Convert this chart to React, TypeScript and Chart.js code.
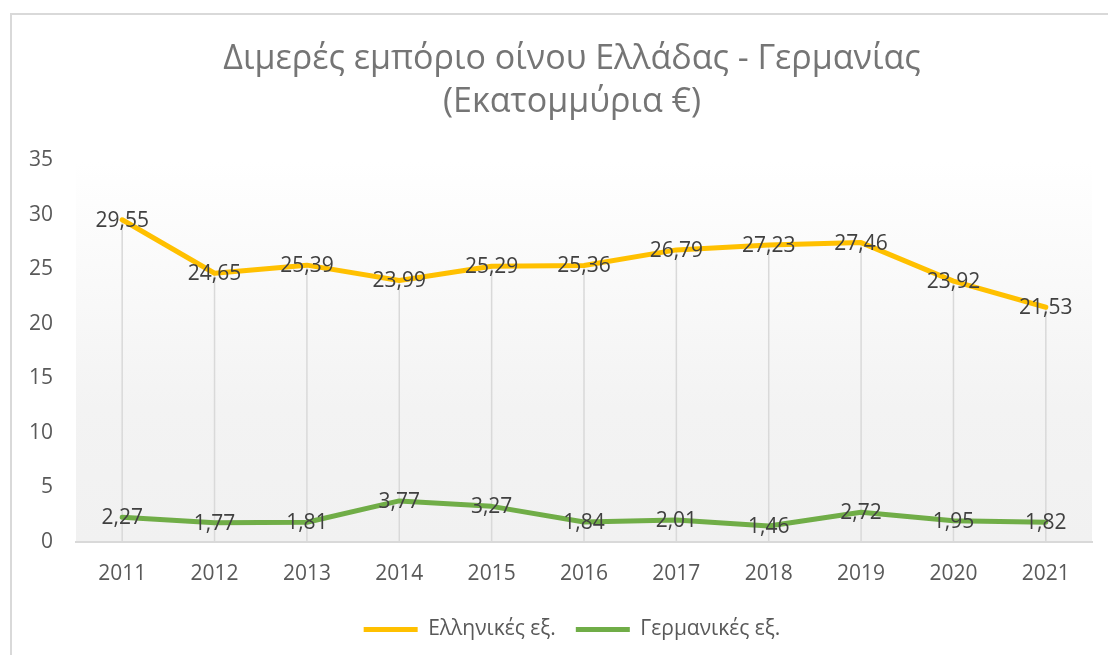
import React, { useEffect, useRef } from "react";
import { Chart, registerables } from "chart.js";

Chart.register(...registerables);

const years = ["2011", "2012", "2013", "2014", "2015", "2016", "2017", "2018", "2019", "2020", "2021"];
const greekExports = [29.55, 24.65, 25.39, 23.99, 25.29, 25.36, 26.79, 27.23, 27.46, 23.92, 21.53];
const germanExports = [2.27, 1.77, 1.81, 3.77, 3.27, 1.84, 2.01, 1.46, 2.72, 1.95, 1.82];
const seriesNames = ["Ελληνικές εξ.", "Γερμανικές εξ."];
const titleLines = ["Διμερές εμπόριο οίνου Ελλάδας - Γερμανίας", "(Εκατομμύρια €)"];
const yMin = 0;
const yMax = 35;
const yStep = 5;

const FONT = "'Open Sans', 'Noto Sans', sans-serif";

const plotBackground = {
  id: "plotBackground",
  beforeDraw(chart: any) {
    const { ctx, chartArea } = chart;
    if (!chartArea) return;
    const g = ctx.createLinearGradient(0, chartArea.top, 0, chartArea.bottom);
    g.addColorStop(0, "#ffffff");
    g.addColorStop(0.65, "#f3f3f3");
    g.addColorStop(1, "#f1f1f1");
    ctx.save();
    ctx.fillStyle = g;
    ctx.fillRect(chartArea.left, chartArea.top, chartArea.right - chartArea.left, chartArea.bottom - chartArea.top);
    ctx.restore();
  },
};

const dropLines = {
  id: "dropLines",
  beforeDatasetsDraw(chart: any) {
    const { ctx } = chart;
    const yScale = chart.scales.y;
    const base = yScale.getPixelForValue(0);
    const metas = chart.data.datasets.map((_: any, i: number) => chart.getDatasetMeta(i));
    const n = chart.data.labels.length;
    ctx.save();
    ctx.strokeStyle = "#d9d9d9";
    ctx.lineWidth = 1.5;
    for (let i = 0; i < n; i++) {
      let top = Infinity;
      let x = 0;
      metas.forEach((m: any) => {
        const p = m.data[i];
        if (p && p.y < top) {
          top = p.y;
          x = p.x;
        }
      });
      ctx.beginPath();
      ctx.moveTo(x, top);
      ctx.lineTo(x, base);
      ctx.stroke();
    }
    ctx.restore();
  },
};

const dataLabels = {
  id: "dataLabels",
  afterDatasetsDraw(chart: any) {
    const { ctx } = chart;
    ctx.save();
    ctx.font = `21px ${FONT}`;
    ctx.fillStyle = "#404040";
    ctx.textAlign = "center";
    ctx.textBaseline = "middle";
    chart.data.datasets.forEach((ds: any, di: number) => {
      const meta = chart.getDatasetMeta(di);
      meta.data.forEach((p: any, i: number) => {
        const v = ds.data[i];
        const txt = v.toFixed(2).replace(".", ",");
        ctx.fillText(txt, p.x, p.y + 1);
      });
    });
    ctx.restore();
  },
};

export default function App() {
  const ref = useRef<HTMLCanvasElement | null>(null);

  useEffect(() => {
    if (!ref.current) return;
    const chart = new Chart(ref.current, {
      type: "line",
      data: {
        labels: years,
        datasets: [
          {
            label: seriesNames[0],
            data: greekExports,
            borderColor: "#FFC000",
            backgroundColor: "#FFC000",
            borderWidth: 5,
            pointRadius: 0,
            tension: 0,
            borderCapStyle: "round",
            borderJoinStyle: "round",
          },
          {
            label: seriesNames[1],
            data: germanExports,
            borderColor: "#70AD47",
            backgroundColor: "#70AD47",
            borderWidth: 5,
            pointRadius: 0,
            tension: 0,
            borderCapStyle: "round",
            borderJoinStyle: "round",
          },
        ],
      },
      options: {
        animation: false,
        responsive: false,
        maintainAspectRatio: false,
        layout: { padding: { left: 12, right: 8, top: 14, bottom: 5 } },
        plugins: {
          title: {
            display: true,
            text: titleLines,
            color: "#757575",
            font: { family: FONT, size: 34, weight: "normal", lineHeight: 1.27 },
            padding: { top: 24, bottom: 36 },
          },
          legend: {
            display: true,
            position: "bottom",
            labels: {
              usePointStyle: true,
              pointStyle: "line",
              pointStyleWidth: 54,
              color: "#595959",
              font: { family: FONT, size: 21 },
              padding: 20,
            },
          },
          tooltip: { enabled: false },
        },
        scales: {
          x: {
            offset: true,
            grid: { display: false },
            border: { display: true, color: "#d9d9d9", width: 2 },
            ticks: { color: "#595959", font: { family: FONT, size: 21 }, padding: 11 },
            afterFit(scale: any) {
              scale.height = 57;
            },
          },
          y: {
            min: yMin,
            max: yMax,
            grid: { display: false },
            border: { display: false },
            ticks: { stepSize: yStep, color: "#595959", font: { family: FONT, size: 21 }, padding: 15 },
            afterFit(scale: any) {
              scale.width = 64;
            },
          },
          yRightSpacer: {
            type: "linear",
            position: "right",
            display: true,
            grid: { display: false },
            border: { display: false },
            ticks: { display: false },
            afterFit(scale: any) {
              scale.width = 40;
            },
          },
        },
      },
      plugins: [plotBackground, dropLines, dataLabels],
    } as any);
    return () => chart.destroy();
  }, []);

  return (
    <div
      style={{
        position: "absolute",
        left: 0,
        top: 0,
        width: 1108,
        height: 655,
        background: "#ffffff",
        overflow: "hidden",
      }}
    >
      <div
        style={{
          position: "absolute",
          left: 10,
          top: 13,
          width: 1130,
          height: 642,
          borderLeft: "2px solid #d9d9d9",
          borderTop: "2px solid #d9d9d9",
          boxSizing: "border-box",
        }}
      />
      <canvas ref={ref} width={1140} height={655} style={{ position: "absolute", left: 0, top: 0 }} />
    </div>
  );
}
